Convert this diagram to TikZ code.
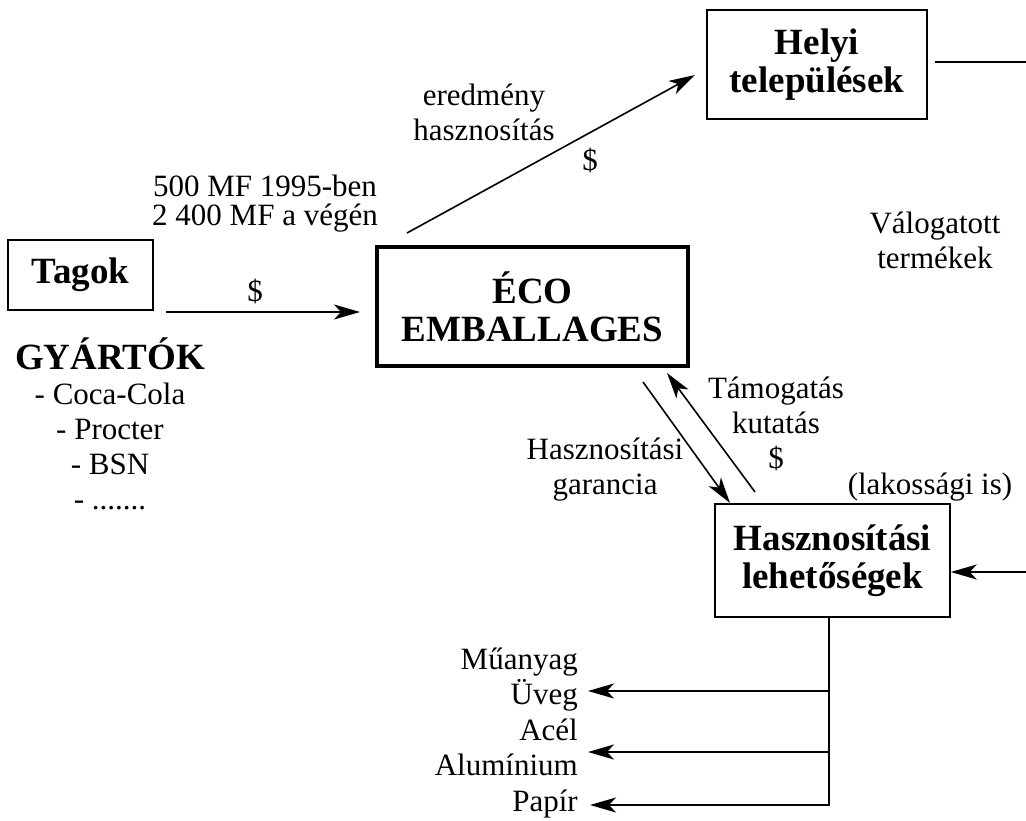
\documentclass[tikz,border=0pt]{standalone}
\usepackage{fontspec}
\setmainfont{Liberation Serif}
\usetikzlibrary{arrows.meta,positioning}

\begin{document}
\begin{tikzpicture}[x=1pt,y=-1pt,
   every node/.style={inner sep=0pt,align=center},
   lbl/.style={font=\fontsize{31}{35}\selectfont},
   ttl/.style={font=\fontsize{37}{38}\selectfont\bfseries},
   unit/.style={draw,line width=1.5pt},
   conn/.style={line width=1.6pt},
   flow/.style={conn,-{Stealth[length=26pt,width=15pt,inset=7pt]}}]
   \useasboundingbox (0,0) rectangle (1026,821);

   % boxes
   \node[unit,ttl,minimum width=145pt,minimum height=70pt] (tagok) at (80.5,275) {Tagok};
   \node[unit,ttl,line width=4pt,minimum width=311pt,minimum height=119pt] (eco) at (532.5,306.5) {ÉCO\\EMBALLAGES};
   \node[unit,ttl,minimum width=220pt,minimum height=109pt] (helyi) at (817,64.5) {Helyi\\települések};
   \node[unit,ttl,minimum width=235pt,minimum height=113pt] (hasz) at (832.5,560.5) {Hasznosítási\\lehetőségek};

   % labels
   \node[lbl] (eredm) at (484,112) {eredmény\\hasznosítás};
   \node[lbl] (eredmd) at (590,160) {\$};
   \node[lbl,font=\fontsize{31}{29}\selectfont] (penz) at (265,204) {500 MF 1995-ben\\2 400 MF a végén};
   \node[lbl] (tagd) at (255,291) {\$};
   \node[lbl] (gyart) at (110,424) {\textbf{\fontsize{37}{35}\selectfont GYÁRTÓK}\\- Coca-Cola\\- Procter\\- BSN\\- .......};
   \node[lbl] (valog) at (935,240) {Válogatott\\termékek};
   \node[lbl] (tamog) at (776,424) {Támogatás\\kutatás\\\$};
   \node[lbl] (garan) at (605,470) {Hasznosítási\\garancia};
   \node[lbl] (lakos) at (930,487) {(lakossági is)};
   \node[lbl,font=\fontsize{31}{35.5}\selectfont,align=right,anchor=east] (anyag) at (578,733) {Műanyag\\Üveg\\Acél\\Alumínium\\Papír};

   % free ends
   \coordinate (t0) at (166,312);
   \coordinate (r0) at (407,233);
   \coordinate (r1) at (695,75);
   \coordinate (d0) at (643,382);
   \coordinate (d1) at (730,503);
   \coordinate (u0) at (755,492);
   \coordinate (u1) at (667,373);
   \coordinate (h0) at (935,62);
   \coordinate (h1) at (1026,62);
   \coordinate (k0) at (1026,572);
   \coordinate (m1) at (588,691);
   \coordinate (m2) at (588,752);
   \coordinate (m3) at (590,805);

   \draw[flow] (t0) -- ([xshift=-15pt]t0 -| eco.west);
   \draw[flow] (r0) -- (r1);
   \draw[flow] (d0) -- (d1);
   \draw[flow] (u0) -- (u1);
   \draw[conn] (h0) -- (h1);
   \draw[flow] (k0) -- (k0 -| hasz.east);
   \draw[flow] ([xshift=-3.5pt]hasz.south) |- (m3);
   \draw[flow] (m1 -| 829,0) -- (m1);
   \draw[flow] (m2 -| 829,0) -- (m2);
\end{tikzpicture}
\end{document}
